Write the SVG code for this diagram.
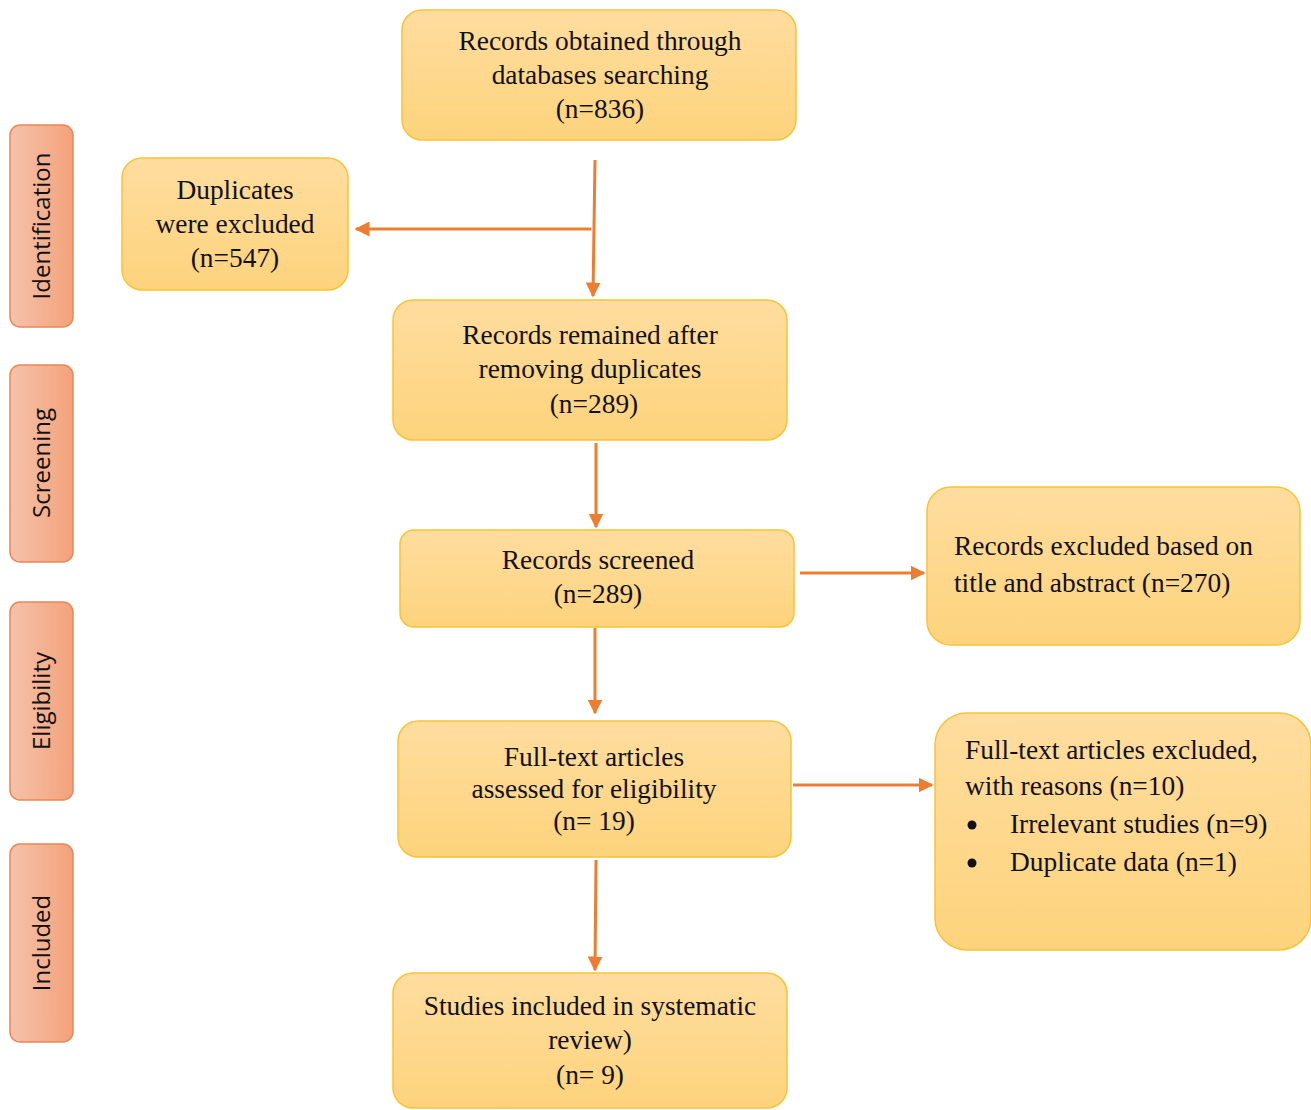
<svg xmlns="http://www.w3.org/2000/svg" width="1311" height="1110" viewBox="0 0 1311 1110">
<defs>
<linearGradient id="gBox" x1="0" y1="0" x2="0" y2="1">
<stop offset="0" stop-color="#FFDD9F"/>
<stop offset="1" stop-color="#FDD37C"/>
</linearGradient>
<linearGradient id="gSide" x1="0" y1="0" x2="1" y2="0">
<stop offset="0" stop-color="#F6C2AB"/>
<stop offset="1" stop-color="#F3A27A"/>
</linearGradient>
<marker id="ah" viewBox="0 0 10 10" refX="9" refY="5" markerWidth="5" markerHeight="5" orient="auto" markerUnits="strokeWidth">
<path d="M0,0 L10,5 L0,10 z" fill="#ED7D31"/>
</marker>
</defs>
<style>
.box{fill:url(#gBox);stroke:#F6C437;stroke-width:1.5}
.side{fill:url(#gSide);stroke:#E8875A;stroke-width:1.5}
.t{font-family:"Liberation Serif","Times New Roman",serif;font-size:27.4px;fill:#111}
.c{text-anchor:middle}
.s{font-family:"Open Sans","Liberation Sans",sans-serif;font-size:24px;fill:#111;text-anchor:middle}
.ln{stroke:#ED7D31;stroke-width:3;fill:none}
</style>
<rect width="1311" height="1110" fill="#fff"/>

<g id="side-identification"><rect class="side" x="10" y="125" width="63" height="202" rx="10"/><text class="s" transform="translate(50,226) rotate(-90)">Identification</text></g>
<g id="side-screening"><rect class="side" x="10" y="365" width="63" height="197" rx="10"/><text class="s" transform="translate(50,463) rotate(-90)">Screening</text></g>
<g id="side-eligibility"><rect class="side" x="10" y="602" width="63" height="198" rx="10"/><text class="s" transform="translate(50,701) rotate(-90)">Eligibility</text></g>
<g id="side-included"><rect class="side" x="10" y="844" width="63" height="198" rx="10"/><text class="s" transform="translate(50,943) rotate(-90)">Included</text></g>

<g id="connectors">
<path class="ln" d="M595,160 L593,296" marker-end="url(#ah)"/>
<path class="ln" d="M591,229 L356,229" marker-end="url(#ah)"/>
<path class="ln" d="M596,443 L596,527" marker-end="url(#ah)"/>
<path class="ln" d="M800,573 L924,573" marker-end="url(#ah)"/>
<path class="ln" d="M595,628 L595,713" marker-end="url(#ah)"/>
<path class="ln" d="M793,785 L932,785" marker-end="url(#ah)"/>
<path class="ln" d="M596,860 L595,970" marker-end="url(#ah)"/>
</g>

<g id="n1"><rect class="box" x="402" y="10" width="394" height="130" rx="20"/>
<text class="t c" x="600" y="50">Records obtained through</text>
<text class="t c" x="600" y="84">databases searching</text>
<text class="t c" x="600" y="118">(n=836)</text></g>

<g id="n-dup"><rect class="box" x="122" y="158" width="226" height="132" rx="20"/>
<text class="t c" x="235" y="199">Duplicates</text>
<text class="t c" x="235" y="233">were excluded</text>
<text class="t c" x="235" y="267">(n=547)</text></g>

<g id="n2"><rect class="box" x="393" y="300" width="394" height="140" rx="20"/>
<text class="t c" x="590" y="344">Records remained after</text>
<text class="t c" x="590" y="378">removing duplicates</text>
<text class="t c" x="594" y="413">(n=289)</text></g>

<g id="n3"><rect class="box" x="400" y="530" width="394" height="97" rx="14"/>
<text class="t c" x="598" y="569">Records screened</text>
<text class="t c" x="598" y="603">(n=289)</text></g>

<g id="n-ex1"><rect class="box" x="927" y="487" width="373" height="158" rx="24"/>
<text class="t" x="954" y="555">Records excluded based on</text>
<text class="t" x="954" y="592">title and abstract (n=270)</text></g>

<g id="n4"><rect class="box" x="398" y="721" width="393" height="136" rx="20"/>
<text class="t c" x="594" y="766">Full-text articles</text>
<text class="t c" x="594" y="798">assessed for eligibility</text>
<text class="t c" x="594" y="830">(n= 19)</text></g>

<g id="n-ex2"><rect class="box" x="935" y="713" width="376" height="237" rx="32"/>
<text class="t" x="965" y="759">Full-text articles excluded,</text>
<text class="t" x="965" y="795">with reasons (n=10)</text>
<circle cx="972" cy="825" r="4.5" fill="#111"/>
<text class="t" x="1010" y="833">Irrelevant studies (n=9)</text>
<circle cx="972" cy="863" r="4.5" fill="#111"/>
<text class="t" x="1010" y="871">Duplicate data (n=1)</text></g>

<g id="n5"><rect class="box" x="393" y="973" width="394" height="135" rx="20"/>
<text class="t c" x="590" y="1015">Studies included in systematic</text>
<text class="t c" x="590" y="1049">review)</text>
<text class="t c" x="590" y="1084">(n= 9)</text></g>
</svg>
